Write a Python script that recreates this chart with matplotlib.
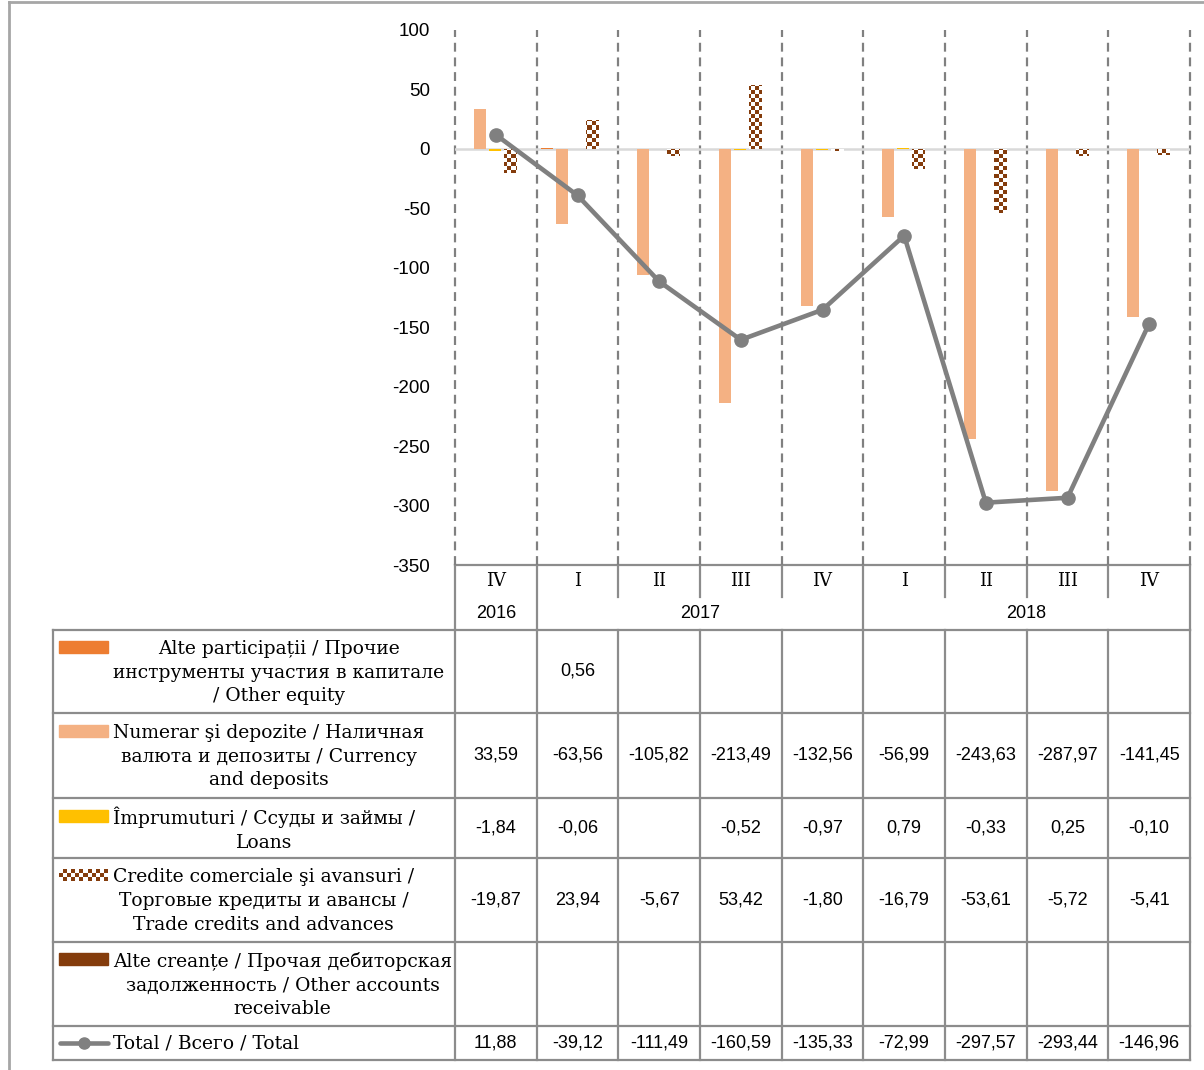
import numpy as np
import matplotlib
matplotlib.use("Agg")
import matplotlib.pyplot as plt
from matplotlib.colors import ListedColormap

# ---------------------------------------------------------
# Datos
# ---------------------------------------------------------
quarters = ["IV", "I", "II", "III", "IV", "I", "II", "III", "IV"]
years = ["2016", "2017", "2018"]
year_spans = [1, 4, 4]

series_names = [
    "Alte participații / Прочие\nинструменты участия в капитале\n/ Other equity",
    "Numerar şi depozite / Наличная\nвалюта и депозиты / Currency\nand deposits",
    "Împrumuturi / Ссуды и займы /\nLoans",
    "Credite comerciale şi avansuri /\nТорговые кредиты и авансы /\nTrade credits and advances",
    "Alte creanțe / Прочая дебиторская\nзадолженность / Other accounts\nreceivable",
]
total_name = "Total / Всего / Total"

other_equity = [np.nan, 0.56, np.nan, np.nan, np.nan, np.nan, np.nan, np.nan, np.nan]
currency_deposits = [33.59, -63.56, -105.82, -213.49, -132.56, -56.99, -243.63, -287.97, -141.45]
loans = [-1.84, -0.06, np.nan, -0.52, -0.97, 0.79, -0.33, 0.25, -0.10]
trade_credits = [-19.87, 23.94, -5.67, 53.42, -1.80, -16.79, -53.61, -5.72, -5.41]
other_receivables = [np.nan] * 9
total = [11.88, -39.12, -111.49, -160.59, -135.33, -72.99, -297.57, -293.44, -146.96]

series = [other_equity, currency_deposits, loans, trade_credits, other_receivables]
colors = ["#ED7D31", "#F4B183", "#FFC000", "checker", "#843C0C"]
brown = "#843C0C"
grey = "#808080"

serif = ["DejaVu Serif"]
sans = ["Liberation Sans", "DejaVu Sans"]

# ---------------------------------------------------------
# Figura
# ---------------------------------------------------------
W, H = 1204, 1070
fig = plt.figure(figsize=(W / 100, H / 100), dpi=100)

# capa de tabla en pixeles
tab = fig.add_axes([0, 0, 1, 1])
tab.set_xlim(0, W)
tab.set_ylim(H, 0)
tab.axis("off")

px_l, px_r, px_t, px_b = 455, 1190, 30, 565
ax = fig.add_axes([px_l / W, 1 - px_b / H, (px_r - px_l) / W, (px_b - px_t) / H])
ax.set_zorder(2)
ax.patch.set_alpha(0)

n = len(quarters)
x = np.arange(n)
step, width = 0.184, 0.147

checker = np.indices((134, 184)).sum(axis=0) % 2
cmap = ListedColormap(["white", brown])

ax.axhline(0, color="#D9D9D9", lw=1.8, zorder=1)
for i, (vals, col) in enumerate(zip(series, colors)):
    pos = x + (i - 2) * step - 0.01
    if col == "checker":
        bars = ax.bar(pos, vals, width, color="white", zorder=2)
        for b in bars:
            im = ax.imshow(checker, cmap=cmap, extent=(-0.5, n - 0.5, -350, 100),
                           aspect="auto", interpolation="nearest", zorder=3)
            im.set_clip_path(b)
    else:
        ax.bar(pos, vals, width, color=col, zorder=2)

ax.plot(x, total, color=grey, lw=3.3, marker="o", ms=9.5, zorder=5)

for k in range(n + 1):
    ax.axvline(k - 0.5, color=grey, lw=1.6, ls=(0, (4, 2.6)), zorder=0,
               clip_on=False)

ax.set_xlim(-0.5, n - 0.5)
ax.set_ylim(-350, 100)
ax.set_yticks(np.arange(-350, 101, 50))
ax.set_yticklabels([str(v) for v in range(-350, 101, 50)], family=sans, fontsize=13.5)
ax.tick_params(axis="y", length=0, pad=18)
ax.set_xticks([])
for s in ax.spines.values():
    s.set_visible(False)

# ---------------------------------------------------------
# Tabla de datos
# ---------------------------------------------------------
cw = (px_r - px_l) / n
col_x = [px_l + k * cw for k in range(n + 1)]
lc, lw = "#8C8C8C", 1.6
tab_l = 53
q_top, q_bot, y_bot = 565, 597, 630
rows = [630, 713, 798, 858, 942, 1026, 1060]

tab.plot([px_l, px_r], [q_top, q_top], color=lc, lw=lw)
year_edges = np.cumsum([0] + year_spans)
for k in range(n + 1):
    full = k in year_edges
    tab.plot([col_x[k], col_x[k]], [q_top, y_bot if full else q_bot], color=lc, lw=lw)
for k, q in enumerate(quarters):
    tab.text((col_x[k] + col_x[k + 1]) / 2, (q_top + q_bot) / 2, q,
             ha="center", va="center", family=serif, fontsize=13)
for j, yr in enumerate(years):
    a, b = col_x[year_edges[j]], col_x[year_edges[j + 1]]
    tab.text((a + b) / 2, (q_bot + y_bot) / 2, yr, ha="center", va="center",
             family=sans, fontsize=13)

for r in rows:
    tab.plot([tab_l, px_r], [r, r], color=lc, lw=lw)
tab.plot([tab_l, tab_l], [rows[0], rows[-1]], color=lc, lw=lw)
for k in range(n + 1):
    tab.plot([col_x[k], col_x[k]], [rows[0], rows[-1]], color=lc, lw=lw)


def fmt(v):
    return "" if np.isnan(v) else f"{v:.2f}".replace(".", ",")


line_h = 25
all_rows = series + [total]
all_names = series_names + [total_name]
all_cols = colors + ["line"]
for j, (vals, name, col) in enumerate(zip(all_rows, all_names, all_cols)):
    top, bot = rows[j], rows[j + 1]
    yc = (top + bot) / 2
    nl = name.count("\n") + 1
    y_first = yc - (nl - 1) / 2 * line_h
    tab.text(113, yc + 1, name, ha="left", va="center", multialignment="center",
             family=serif, fontsize=13.5, linespacing=1.42)
    if col == "line":
        tab.plot([60, 108], [y_first, y_first], color=grey, lw=3.3,
                 solid_capstyle="round")
        tab.plot([84], [y_first], marker="o", color=grey, ms=8)
    elif col == "checker":
        tab.imshow(np.indices((3, 12)).sum(axis=0) % 2, cmap=cmap,
                   extent=(59, 108, y_first + 6, y_first - 6), aspect="auto",
                   interpolation="nearest")
    else:
        tab.add_patch(plt.Rectangle((59, y_first - 6), 49, 12, color=col))
    for k, v in enumerate(vals):
        tab.text((col_x[k] + col_x[k + 1]) / 2, yc, fmt(v), ha="center",
                 va="center", family=sans, fontsize=13)

tab.set_xlim(0, W)
tab.set_ylim(H, 0)

# marco exterior
tab.plot([9, W], [2, 2], color="#A6A6A6", lw=2)
tab.plot([9, 9], [2, H], color="#A6A6A6", lw=2)

fig.savefig("out.png", dpi=100)
